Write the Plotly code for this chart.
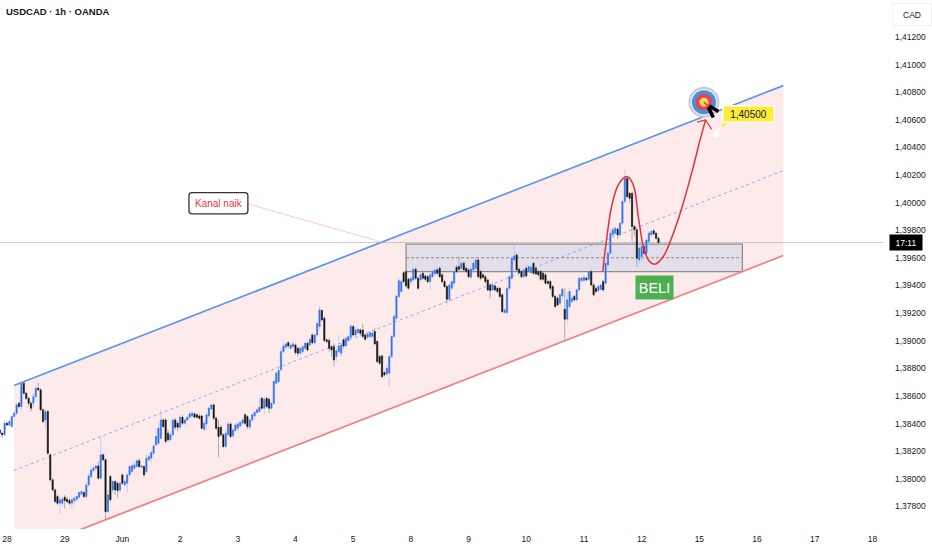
import plotly.graph_objects as go

# prices in 1/100000 units, one hourly candle per entry, first candle sits 3 bars before the "28" tick
opens = [138354,138330,138318,138402,138390,138378,138451,138475,138547,138523,138692,138620,
138583,138547,138547,138595,138656,138644,138499,138426,138487,138173,137992,137919,
137871,137823,137823,137866,137852,137842,137823,137840,137852,137866,137890,137900,
137871,137955,138016,138059,138076,138093,138004,138173,138137,137762,138016,137919,
137980,137968,137919,138028,137955,137968,138028,138052,138076,138088,138130,138083,
138088,138052,138137,138149,138185,138245,138257,138294,138426,138426,138330,138282,
138318,138426,138402,138373,138446,138402,138426,138446,138455,138470,138463,138455,
138455,138359,138397,138455,138506,138535,138438,138373,138373,138318,138233,138318,
138397,138311,138349,138366,138383,138402,138463,138451,138373,138426,138455,138480,
138487,138583,138511,138583,138576,138511,138547,138692,138704,138789,138921,138953,
138986,138945,138957,138969,138945,138909,138921,138945,138981,138969,139042,138986,
139042,139102,139218,139163,139006,139001,138957,138957,138885,138921,138909,139006,
138962,139001,139025,139102,139042,139059,139078,139078,139042,139025,139030,139030,
139066,138994,138885,138890,138769,138759,138764,138885,139030,139163,139320,139356,
139493,139501,139445,139428,139440,139518,139452,139440,139489,139469,139464,139428,
139464,139484,139513,139525,139477,139428,139392,139300,139380,139416,139532,139537,
139525,139561,139525,139513,139460,139513,139525,139585,139501,139477,139464,139440,
139404,139368,139397,139380,139380,139332,139204,139204,139380,139452,139585,139621,
139518,139501,139464,139525,139501,139493,139561,139525,139501,139501,139489,139477,
139428,139428,139392,139320,139307,139271,139325,139228,139156,139247,139284,139320,
139296,139368,139436,139436,139453,139445,139501,139404,139380,139363,139373,139428,
139416,139549,139634,139767,139779,139808,139767,139851,140008,140177,140068,140068,
139827,139803,139585,139610,139682,139634,139718,139767,139796,139779,139742]
highs = [138366,138342,138414,138414,138426,138463,138487,138547,138559,138692,138704,138632,
138595,138559,138620,138668,138697,138656,138511,138499,138499,138185,138004,137931,
137883,137871,137871,137883,137871,137859,137866,137871,137883,137907,137919,137907,
137968,138040,138088,138100,138113,138125,138306,138185,138149,137919,138028,137992,
137992,137980,137980,138040,137992,138040,138100,138113,138125,138143,138149,138100,
138100,138173,138185,138209,138245,138354,138402,138499,138438,138438,138354,138342,
138438,138438,138414,138463,138463,138438,138451,138487,138487,138480,138475,138470,
138463,138426,138475,138523,138547,138547,138451,138426,138390,138330,138354,138414,
138409,138366,138402,138409,138419,138438,138475,138463,138438,138475,138492,138511,
138587,138595,138590,138595,138590,138559,138716,138777,138808,138945,138980,138994,
138998,138986,138989,138981,138957,138957,138969,138994,138994,139025,139054,139054,
139139,139252,139230,139175,139018,139018,138969,138981,138945,139042,138986,139018,
139030,139042,139119,139114,139102,139095,139090,139122,139054,139061,139071,139066,
139090,139006,138897,138902,138781,138825,138897,139042,139187,139336,139452,139440,
139505,139513,139457,139464,139530,139530,139464,139501,139501,139481,139477,139489,
139513,139525,139530,139537,139489,139440,139404,139416,139440,139513,139549,139609,
139573,139573,139537,139525,139530,139573,139597,139597,139513,139489,139476,139452,
139416,139428,139409,139392,139392,139344,139235,139392,139476,139609,139694,139634,
139530,139513,139525,139537,139549,139544,139573,139537,139513,139513,139501,139489,
139440,139440,139404,139332,139319,139344,139385,139380,139356,139380,139332,139332,
139380,139465,139465,139472,139465,139513,139513,139416,139392,139404,139416,139440,
139573,139646,139815,139827,139827,139820,139863,140020,140237,140189,140080,140080,
139839,139815,139682,139694,139694,139742,139791,139803,139808,139791,139754]
lows = [138294,138294,138306,138378,138378,138366,138438,138463,138511,138499,138608,138571,
138523,138487,138511,138571,138632,138487,138402,138366,138173,137980,137907,137823,
137810,137745,137798,137786,137823,137810,137786,137798,137835,137859,137878,137859,
137859,137943,138004,138052,138064,137992,137992,138125,137702,137750,137835,137895,
137883,137859,137895,137955,137943,137900,138016,138040,138064,138076,138076,138076,
138016,138040,138125,138113,138173,138233,138245,138282,138366,138257,138270,138270,
138306,138354,138342,138354,138390,138390,138414,138438,138446,138438,138438,138426,
138354,138345,138354,138438,138497,138426,138354,138156,138306,138221,138221,138306,
138294,138294,138337,138345,138371,138390,138390,138359,138354,138414,138443,138468,
138475,138499,138468,138511,138475,138499,138535,138680,138692,138777,138909,138933,
138945,138933,138945,138897,138885,138897,138909,138933,138921,138957,138974,138974,
139030,139078,139139,138989,138981,138921,138885,138813,138849,138909,138885,138945,
138950,138989,139013,139030,139030,139047,139042,139018,138998,139013,139018,139018,
138965,138837,138825,138728,138740,138747,138672,138873,139018,139151,139308,139344,
139416,139380,139368,139404,139428,139440,139368,139428,139440,139428,139416,139368,
139452,139472,139477,139452,139416,139380,139271,139283,139368,139392,139489,139506,
139513,139501,139489,139452,139448,139501,139513,139452,139440,139448,139416,139356,
139307,139356,139356,139344,139308,139199,139192,139192,139368,139440,139573,139501,
139481,139452,139452,139457,139489,139481,139477,139472,139465,139433,139433,139404,
139404,139368,139308,139235,139247,139259,139295,139001,139127,139235,139272,139284,
139284,139356,139424,139424,139429,139433,139392,139320,139344,139351,139361,139356,
139404,139537,139622,139755,139767,139742,139755,139839,139996,140032,140000,139718,
139755,139537,139561,139573,139622,139622,139706,139755,139762,139730,139699]
closes = [138330,138318,138402,138390,138414,138451,138475,138535,138523,138692,138620,138583,
138547,138511,138595,138656,138644,138499,138414,138487,138185,137992,137919,137835,
137823,137847,137852,137842,137835,137823,137847,137859,137871,137900,137907,137871,
137955,138020,138064,138076,138093,138004,138173,138137,137762,137883,137847,137980,
137919,137914,137968,137968,137980,138028,138088,138095,138100,138130,138088,138093,
138028,138149,138161,138190,138238,138306,138366,138426,138378,138270,138282,138318,
138426,138373,138373,138446,138402,138426,138446,138470,138475,138446,138446,138438,
138366,138402,138463,138511,138535,138438,138366,138306,138318,138233,138330,138397,
138306,138354,138390,138397,138407,138426,138402,138378,138426,138463,138480,138499,
138518,138511,138576,138523,138511,138547,138704,138765,138784,138921,138962,138977,
138962,138969,138977,138914,138909,138945,138957,138981,138933,139010,138986,139042,
139126,139223,139151,139001,138994,138945,138933,138861,138928,138962,138969,138962,
139018,139030,139107,139042,139078,139083,139054,139030,139010,139049,139059,139054,
138977,138849,138837,138740,138752,138800,138885,139030,139175,139324,139435,139428,
139428,139397,139380,139452,139518,139452,139380,139477,139452,139445,139428,139477,
139501,139513,139489,139464,139428,139392,139300,139404,139428,139501,139501,139518,
139561,139513,139501,139464,139518,139561,139585,139464,139452,139460,139428,139368,
139363,139404,139368,139356,139320,139211,139223,139380,139464,139597,139614,139513,
139493,139464,139513,139469,139537,139532,139489,139484,139477,139445,139445,139416,
139416,139380,139320,139247,139259,139332,139373,139156,139296,139356,139308,139296,
139368,139453,139453,139460,139441,139501,139404,139332,139356,139392,139404,139368,
139561,139634,139779,139803,139815,139767,139851,140008,140177,140044,140032,139827,
139803,139597,139670,139682,139634,139730,139779,139791,139774,139742,139711]

day_ticks = [0,24,48,72,96,120,144,168,192,216,240,264,288,312,336,360]
day_labels = ["28","29","Jun","2","3","4","5","8","9","10","11","12","15","16","17","18"]
price_ticks = [1.378,1.380,1.382,1.384,1.386,1.388,1.390,1.392,1.394,1.396,1.398,1.400,1.402,1.404,1.406,1.408,1.410,1.412]
price_labels = ["1,37800","1,38000","1,38200","1,38400","1,38600","1,38800","1,39000","1,39200","1,39400",
                "1,39600","1,39800","1,40000","1,40200","1,40400","1,40600","1,40800","1,41000","1,41200"]

# channel, drawn by hand on the chart
chan_x = [2.9, 322.9]
chan_top = [1.38675, 1.40848]
chan_mid = [1.38060, 1.40232]
chan_bot = [1.37444, 1.39617]

zone_x = [166, 305.9]
zone_top = 1.39699
zone_mid = 1.39601
zone_bot = 1.39501
last_price = 1.39711

path_x = [247.8,249.2,251.5,254.3,257.8,260.5,262.6,264.7,266.8,269.5,273.0,277.2,281.3,285.5,288.3,290.6]
path_y = [1.39501,1.39706,1.39972,1.40129,1.40189,1.40129,1.39899,1.39682,1.39585,1.39554,1.39610,1.39779,1.39996,1.40262,1.40455,1.40600]
head_x = [287.1,290.6,293.1]
head_y = [1.40583,1.40600,1.40532]

assert len(opens) == len(highs) == len(lows) == len(closes)

x = list(range(-3, len(closes) - 3))
o = [v / 100000 for v in opens]
h = [v / 100000 for v in highs]
l = [v / 100000 for v in lows]
c = [v / 100000 for v in closes]

BLUE = "#2f6fee"
BLACK = "#111111"
FONT = "Liberation Sans"

fig = go.Figure()

# channel and zone as shapes so the candles stay on top of them
fig.add_shape(type="path", layer="below", fillcolor="#fdebeb", line=dict(width=0),
              path=f"M {chan_x[0]} {chan_top[0]} L {chan_x[1]} {chan_top[1]} L {chan_x[1]} {chan_bot[1]} L {chan_x[0]} {chan_bot[0]} Z")
fig.add_shape(type="rect", layer="below", x0=zone_x[0], x1=zone_x[1], y0=zone_bot, y1=zone_top,
              fillcolor="#e4deea", line=dict(color="#8c8c8c", width=1.2))
fig.add_shape(type="line", layer="below", x0=zone_x[0], x1=zone_x[1], y0=zone_mid, y1=zone_mid,
              line=dict(color="#8c8c8c", width=1.2, dash="3px,2px"))
fig.add_shape(type="line", layer="below", x0=chan_x[0], x1=chan_x[1], y0=chan_mid[0], y1=chan_mid[1],
              line=dict(color="#8fa8f5", width=1, dash="3px,3px"))
fig.add_shape(type="line", layer="below", x0=-3, x1=365, y0=last_price, y1=last_price,
              line=dict(color="#9a9a9a", width=1, dash="1px,1px"))

# wicks first in a light colour, bodies on top
fig.add_trace(go.Candlestick(x=x, open=o, high=h, low=l, close=c, whiskerwidth=0,
                             increasing=dict(line=dict(color="#a9bff7", width=0.7), fillcolor="#a9bff7"),
                             decreasing=dict(line=dict(color="#8f8f8f", width=0.7), fillcolor="#8f8f8f")))
fig.add_trace(go.Candlestick(x=x, open=o, high=[max(a, b) for a, b in zip(o, c)],
                             low=[min(a, b) for a, b in zip(o, c)], close=c, whiskerwidth=0,
                             increasing=dict(line=dict(color=BLUE, width=0.4), fillcolor=BLUE),
                             decreasing=dict(line=dict(color=BLACK, width=0.4), fillcolor=BLACK)))

fig.add_trace(go.Scatter(x=chan_x, y=chan_top, mode="lines", line=dict(color="#5b94ee", width=1.7)))
fig.add_trace(go.Scatter(x=chan_x, y=chan_bot, mode="lines", line=dict(color="#f77a7f", width=1.7)))

# kanal naik connector
fig.add_trace(go.Scatter(x=[100.2, 155.9], y=[1.39991, 1.39714], mode="lines",
                         line=dict(color="#fbcaca", width=1)))

# red path with arrow
fig.add_trace(go.Scatter(x=path_x, y=path_y, mode="lines", line=dict(color="#e5303c", width=1.5, shape="spline")))
fig.add_trace(go.Scatter(x=head_x, y=head_y, mode="lines", line=dict(color="#e5303c", width=1.2)))

# target icon
for size, col in [(31, "#c4ccd2"), (27, "#e6e9ec"), (24, "#4a8fdc"), (16.5, "#e64553"), (9, "#ffd84d")]:
    fig.add_trace(go.Scatter(x=[289.9], y=[1.40728], mode="markers",
                             marker=dict(size=size, color=col, line=dict(width=0))))
fig.add_trace(go.Scatter(x=[289.9, 292.7], y=[1.40728, 1.40684], mode="lines", line=dict(color="#e64553", width=1.5)))
fig.add_trace(go.Scatter(x=[291.7, 293.8], y=[1.40692, 1.40617], mode="lines", line=dict(color="#000000", width=3.5)))
fig.add_trace(go.Scatter(x=[292.2, 295.9], y=[1.40701, 1.40660], mode="lines", line=dict(color="#000000", width=3.5)))

# tail of the price label: yellow wedge, white line, white dot
fig.add_trace(go.Scatter(x=[297.7, 300.8, 297.3, 297.7], y=[1.40588, 1.40588, 1.40540, 1.40588], mode="lines",
                         fill="toself", fillcolor="#ffeb3b", line=dict(width=0)))
fig.add_trace(go.Scatter(x=[297.3, 294.8], y=[1.40552, 1.40496], mode="lines", line=dict(color="#ffffff", width=1.5)))
fig.add_trace(go.Scatter(x=[294.8], y=[1.40496], mode="markers", marker=dict(size=6, color="#ffffff")))

fig.add_annotation(x=308.4, y=1.40640, text="1,40500", showarrow=False, width=48, height=13,
                   font=dict(family=FONT, size=10, color="#131722"),
                   bgcolor="#ffeb3b", bordercolor="#ffffff", borderwidth=1.5)
fig.add_annotation(x=269.2, y=1.39383, text="BELI", showarrow=False, width=35, height=21,
                   font=dict(family=FONT, size=14.5, color="#ffffff"), bgcolor="#4caf50")
fig.add_annotation(x=88, y=1.39996, text="Kanal naik", showarrow=False,
                   font=dict(family=FONT, size=10, color="#f23645"))

# rounded box behind the channel label
fig.add_shape(type="path", layer="above", xref="x", yref="y", fillcolor="#ffffff",
              line=dict(color="#333333", width=1.3),
              path="M 77.0 1.40073 L 98.9 1.40073 Q 100.2 1.40073 100.2 1.40053 L 100.2 1.39939 "
                   "Q 100.2 1.39919 98.9 1.39919 L 77.0 1.39919 Q 75.7 1.39919 75.7 1.39939 "
                   "L 75.7 1.40053 Q 75.7 1.40073 77.0 1.40073 Z")

fig.add_annotation(xref="paper", yref="paper", x=0.0, y=1.0, xanchor="left", yanchor="top", xshift=4, yshift=-4,
                   text="USDCAD · 1h · OANDA", showarrow=False,
                   font=dict(family=FONT, size=9.5, color="#131722", weight=600))
fig.add_annotation(xref="paper", yref="y", x=1.0, y=last_price, xanchor="left", xshift=5, width=30, height=13,
                   text="17:11", showarrow=False, bgcolor="#000000",
                   font=dict(family=FONT, size=8.5, color="#ffffff"))
fig.add_annotation(xref="paper", yref="paper", x=1.0, y=1.0, xanchor="left", yanchor="top", xshift=8, yshift=-3,
                   width=36, height=19, text="CAD", showarrow=False, bordercolor="#f0f3fa", borderwidth=1,
                   font=dict(family=FONT, size=8.5, color="#131722"))

fig.update_layout(width=932, height=550, margin=dict(l=0, r=48, t=0, b=21), showlegend=False,
                  paper_bgcolor="#ffffff", plot_bgcolor="#ffffff",
                  font=dict(family=FONT, size=8.5, color="#131722"))
fig.update_xaxes(range=[-2.9, 364.8], tickmode="array", tickvals=day_ticks, ticktext=day_labels,
                 showgrid=False, zeroline=False, rangeslider=dict(visible=False), showline=False, ticks="",
                 ticklabelstandoff=3)
fig.update_yaxes(range=[1.37636, 1.41468], side="right", tickmode="array", tickvals=price_ticks,
                 ticktext=price_labels, showgrid=False, zeroline=False, showline=False, ticks="",
                 ticklabelstandoff=10)

fig.write_html("out.html", config=dict(displayModeBar=False), post_script="document.body.style.margin='0';")
